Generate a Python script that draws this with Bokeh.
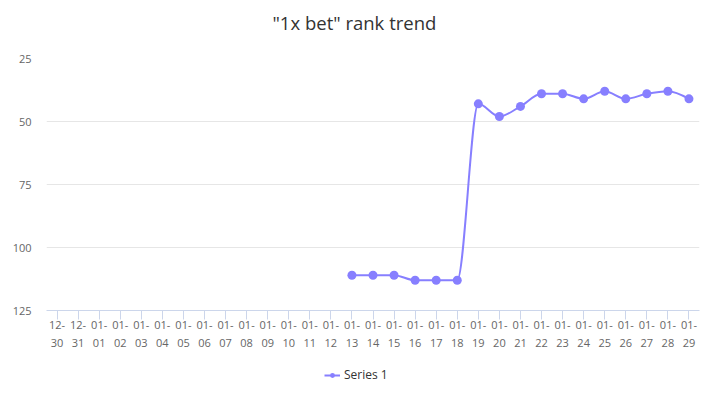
from bokeh.plotting import figure
from bokeh.layouts import column
from bokeh.models import Range1d, FixedTicker, Legend, LegendItem, Title
from bokeh.embed import file_html
from bokeh.resources import INLINE

# ---- data ----
dates = ["12-30", "12-31", "01-01", "01-02", "01-03", "01-04", "01-05", "01-06",
         "01-07", "01-08", "01-09", "01-10", "01-11", "01-12", "01-13", "01-14",
         "01-15", "01-16", "01-17", "01-18", "01-19", "01-20", "01-21", "01-22",
         "01-23", "01-24", "01-25", "01-26", "01-27", "01-28", "01-29"]
ranks = [None, None, None, None, None, None, None, None, None, None, None, None,
         None, None, 111, 111, 111, 113, 113, 113, 43, 48, 44, 39, 39, 41, 38,
         41, 39, 38, 41]
y_ticks = [25, 50, 75, 100, 125]
series_name = "Series 1"
title_text = '"1x bet" rank trend'

COLOR = "#877fff"
FONT = "Open Sans"

p = figure(frame_width=653, frame_height=252, output_backend="svg", toolbar_location=None,
           x_range=Range1d(-0.5, len(dates) - 0.5),
           y_range=Range1d(y_ticks[-1], y_ticks[0]),
           min_border_left=46, min_border_right=1, min_border_top=58,
           min_border_bottom=46, outline_line_color=None, title=None,
           background_fill_color="white", border_fill_color="white")

# spacer between frame and title, then the title itself
p.add_layout(Title(text=" ", text_font_size="1px", standoff=10), "above")
p.add_layout(Title(text=title_text, align="left", offset=226, vertical_align="top",
                   standoff=18, text_font=FONT, text_font_size="18.5px",
                   text_font_style="normal", text_color="#333333"), "above")

# x axis
xs_idx = list(range(len(dates)))
p.xaxis.ticker = FixedTicker(ticks=xs_idx)
p.xaxis.major_label_overrides = {i: d.replace("-", "-\n") for i, d in enumerate(dates)}
p.xaxis.axis_line_color = "#ccd6eb"
p.xaxis.major_tick_line_color = "#ccd6eb"
p.xaxis.major_tick_out = 9
p.xaxis.major_tick_in = 0
p.xaxis.minor_tick_line_color = None
p.xaxis.major_label_text_font = FONT
p.xaxis.major_label_text_font_size = "11px"
p.xaxis.major_label_text_color = "#666666"
p.xaxis.major_label_standoff = -3
p.xaxis.axis_label = None
p.xgrid.grid_line_color = None

# y axis
p.yaxis.ticker = FixedTicker(ticks=y_ticks)
p.yaxis.axis_line_color = None
p.yaxis.major_tick_line_color = None
p.yaxis.minor_tick_line_color = None
p.yaxis.major_tick_out = 0
p.yaxis.major_tick_in = 0
p.yaxis.major_label_standoff = 15
p.yaxis.major_label_text_font = FONT
p.yaxis.major_label_text_font_size = "11px"
p.yaxis.major_label_text_color = "#666666"
p.ygrid.grid_line_color = "#e6e6e6"

# valid points
px = [i for i, r in zip(xs_idx, ranks) if r is not None]
py = [r for r in ranks if r is not None]

# monotone cubic (d3 monotoneX style) tangents -> bezier segments
n = len(px)
slopes = [(py[k + 1] - py[k]) / (px[k + 1] - px[k]) for k in range(n - 1)]
def sgn(v):
    return (v > 0) - (v < 0)
tang = [0.0] * n
for k in range(1, n - 1):
    s0, s1 = slopes[k - 1], slopes[k]
    pp = (s0 + s1) / 2
    tang[k] = (sgn(s0) + sgn(s1)) * min(abs(s0), abs(s1), 0.5 * abs(pp))
tang[0] = (3 * slopes[0] - tang[1]) / 2 if n > 2 else slopes[0]
tang[-1] = (3 * slopes[-1] - tang[-2]) / 2 if n > 2 else slopes[-1]

x0 = px[:-1]; x1 = px[1:]; y0 = py[:-1]; y1 = py[1:]
hh = [b - a for a, b in zip(x0, x1)]
cx0 = [a + h / 3 for a, h in zip(x0, hh)]
cx1 = [b - h / 3 for b, h in zip(x1, hh)]
cy0 = [a + tang[k] * hh[k] / 3 for k, a in enumerate(y0)]
cy1 = [b - tang[k + 1] * hh[k] / 3 for k, b in enumerate(y1)]

p.bezier(x0=x0, y0=y0, x1=x1, y1=y1, cx0=cx0, cy0=cy0, cx1=cx1, cy1=cy1,
         line_color=COLOR, line_width=2)
p.scatter(px, py, size=9, fill_color=COLOR, line_color=COLOR, line_width=0)

# legend strip below the chart
lf = figure(width=700, height=36, output_backend="svg", toolbar_location=None,
            x_range=Range1d(0, 1), y_range=Range1d(0, 1),
            x_axis_location=None, y_axis_location=None, outline_line_color=None,
            min_border=0, background_fill_color="white", border_fill_color="white")
lf.xgrid.visible = False
lf.ygrid.visible = False
leg_line = lf.line(x=[-5, -4], y=[-5, -5], line_color=COLOR, line_width=2)
leg_pt = lf.scatter([-5], [-5], size=9, fill_color=COLOR, line_color=COLOR, line_width=0)
legend = Legend(items=[LegendItem(label=series_name, renderers=[leg_line, leg_pt])],
                orientation="horizontal", location=(278, 9),
                label_text_font=FONT, label_text_font_size="12px",
                label_text_color="#333333", border_line_color=None,
                background_fill_alpha=0, glyph_width=16, glyph_height=12,
                label_standoff=4, margin=0, padding=4)
lf.add_layout(legend, "center")

open("out.html", "w").write(file_html(column(p, lf), INLINE))
